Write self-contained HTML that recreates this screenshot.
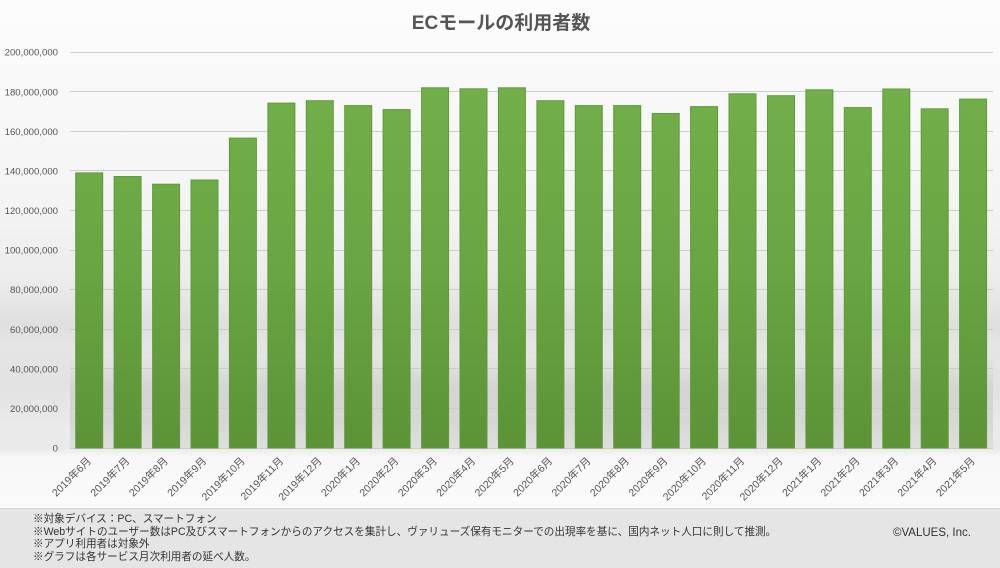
<!DOCTYPE html>
<html><head><meta charset="utf-8"><style>
html,body{margin:0;padding:0;}
body{width:1000px;height:568px;position:relative;overflow:hidden;background:#f8f8f8;font-family:"Liberation Sans","Noto Sans CJK JP",sans-serif;}
#chart{position:absolute;left:0;top:0;width:1000px;height:508px;}
#foot{position:absolute;left:0;top:508px;width:1000px;height:60px;background:#e5e5e5;border-top:1px solid #d6d6d6;box-sizing:border-box;}
#notes{position:absolute;left:33px;top:4px;font-size:10.6px;line-height:12.7px;color:#333;white-space:nowrap;}
#copy{position:absolute;left:893px;top:18px;font-size:11.5px;color:#333;white-space:nowrap;}
</style></head><body>
<svg id="chart" width="1000" height="508" viewBox="0 0 1000 508" xmlns="http://www.w3.org/2000/svg">
<defs>
<linearGradient id="bg" x1="0" y1="0" x2="0" y2="508" gradientUnits="userSpaceOnUse">
<stop offset="0" stop-color="#fcfcfc"/>
<stop offset="0.40" stop-color="#f4f4f4"/>
<stop offset="0.55" stop-color="#ececec"/>
<stop offset="0.64" stop-color="#dfdfdf"/>
<stop offset="0.68" stop-color="#e5e5e5"/>
<stop offset="0.76" stop-color="#e2e2e2"/>
<stop offset="0.85" stop-color="#ebebeb"/>
<stop offset="0.882" stop-color="#e9e9e9"/>
<stop offset="0.90" stop-color="#f8f8f8"/>
<stop offset="1" stop-color="#fafafa"/>
</linearGradient>
<linearGradient id="floor" x1="0" y1="355" x2="0" y2="448" gradientUnits="userSpaceOnUse">
<stop offset="0" stop-color="#e6e6e6"/>
<stop offset="0.35" stop-color="#d4d4d4"/>
<stop offset="0.7" stop-color="#d6d6d6"/>
<stop offset="1" stop-color="#dedede"/>
</linearGradient>
<linearGradient id="bar" x1="0" y1="90" x2="0" y2="448" gradientUnits="userSpaceOnUse">
<stop offset="0" stop-color="#72ae49"/>
<stop offset="0.5" stop-color="#69a542"/>
<stop offset="1" stop-color="#5b9336"/>
</linearGradient>
</defs>
<rect x="0" y="0" width="1000" height="508" fill="url(#bg)"/>
<rect x="70" y="355" width="923" height="93" fill="url(#floor)"/>
<text x="501" y="29" text-anchor="middle" font-size="19" font-weight="bold" fill="#555" font-family="Liberation Sans, Noto Sans CJK JP, sans-serif">ECモールの利用者数</text>
<g stroke="#cdcdcd" stroke-width="1">
<line x1="70" x2="993" y1="448.5" y2="448.5"/>
<line x1="70" x2="993" y1="408.5" y2="408.5"/>
<line x1="70" x2="993" y1="368.5" y2="368.5"/>
<line x1="70" x2="993" y1="329.5" y2="329.5"/>
<line x1="70" x2="993" y1="289.5" y2="289.5"/>
<line x1="70" x2="993" y1="250.5" y2="250.5"/>
<line x1="70" x2="993" y1="210.5" y2="210.5"/>
<line x1="70" x2="993" y1="170.5" y2="170.5"/>
<line x1="70" x2="993" y1="131.5" y2="131.5"/>
<line x1="70" x2="993" y1="91.5" y2="91.5"/>
<line x1="70" x2="993" y1="52.5" y2="52.5"/>
</g>
<g font-size="9.6" fill="#555" text-anchor="end" font-family="Liberation Sans, sans-serif">
<text x="58" y="451.5">0</text>
<text x="58" y="411.9">20,000,000</text>
<text x="58" y="372.3">40,000,000</text>
<text x="58" y="332.8">60,000,000</text>
<text x="58" y="293.2">80,000,000</text>
<text x="58" y="253.6">100,000,000</text>
<text x="58" y="214">120,000,000</text>
<text x="58" y="174.4">140,000,000</text>
<text x="58" y="134.8">160,000,000</text>
<text x="58" y="95.3">180,000,000</text>
<text x="58" y="55.7">200,000,000</text>
</g>
<g fill="url(#bar)" stroke="#5f9b3a" stroke-width="1">
<rect x="75.7" y="172.9" width="27" height="275.1"/>
<rect x="114.1" y="176.5" width="27" height="271.5"/>
<rect x="152.6" y="184.2" width="27" height="263.8"/>
<rect x="191.0" y="180.0" width="27" height="268.0"/>
<rect x="229.4" y="138.1" width="27" height="309.9"/>
<rect x="267.9" y="103.1" width="27" height="344.9"/>
<rect x="306.3" y="100.7" width="27" height="347.3"/>
<rect x="344.7" y="105.6" width="27" height="342.4"/>
<rect x="383.1" y="109.6" width="27" height="338.4"/>
<rect x="421.6" y="87.8" width="27" height="360.2"/>
<rect x="460.0" y="88.8" width="27" height="359.2"/>
<rect x="498.4" y="87.8" width="27" height="360.2"/>
<rect x="536.9" y="100.7" width="27" height="347.3"/>
<rect x="575.3" y="105.6" width="27" height="342.4"/>
<rect x="613.7" y="105.6" width="27" height="342.4"/>
<rect x="652.2" y="113.5" width="27" height="334.5"/>
<rect x="690.6" y="106.6" width="27" height="341.4"/>
<rect x="729.0" y="93.8" width="27" height="354.2"/>
<rect x="767.5" y="95.7" width="27" height="352.3"/>
<rect x="805.9" y="89.8" width="27" height="358.2"/>
<rect x="844.3" y="107.6" width="27" height="340.4"/>
<rect x="882.8" y="89.0" width="27" height="359.0"/>
<rect x="921.2" y="108.8" width="27" height="339.2"/>
<rect x="959.6" y="99.1" width="27" height="348.9"/>
</g>
<g font-size="10.5" fill="#555" text-anchor="end" font-family="Liberation Sans, Noto Sans CJK JP, sans-serif">
<text transform="translate(89.2,459) rotate(-45)" dy="0.35em">2019年6月</text>
<text transform="translate(127.6,459) rotate(-45)" dy="0.35em">2019年7月</text>
<text transform="translate(166.1,459) rotate(-45)" dy="0.35em">2019年8月</text>
<text transform="translate(204.5,459) rotate(-45)" dy="0.35em">2019年9月</text>
<text transform="translate(242.9,459) rotate(-45)" dy="0.35em">2019年10月</text>
<text transform="translate(281.4,459) rotate(-45)" dy="0.35em">2019年11月</text>
<text transform="translate(319.8,459) rotate(-45)" dy="0.35em">2019年12月</text>
<text transform="translate(358.2,459) rotate(-45)" dy="0.35em">2020年1月</text>
<text transform="translate(396.6,459) rotate(-45)" dy="0.35em">2020年2月</text>
<text transform="translate(435.1,459) rotate(-45)" dy="0.35em">2020年3月</text>
<text transform="translate(473.5,459) rotate(-45)" dy="0.35em">2020年4月</text>
<text transform="translate(511.9,459) rotate(-45)" dy="0.35em">2020年5月</text>
<text transform="translate(550.4,459) rotate(-45)" dy="0.35em">2020年6月</text>
<text transform="translate(588.8,459) rotate(-45)" dy="0.35em">2020年7月</text>
<text transform="translate(627.2,459) rotate(-45)" dy="0.35em">2020年8月</text>
<text transform="translate(665.7,459) rotate(-45)" dy="0.35em">2020年9月</text>
<text transform="translate(704.1,459) rotate(-45)" dy="0.35em">2020年10月</text>
<text transform="translate(742.5,459) rotate(-45)" dy="0.35em">2020年11月</text>
<text transform="translate(781.0,459) rotate(-45)" dy="0.35em">2020年12月</text>
<text transform="translate(819.4,459) rotate(-45)" dy="0.35em">2021年1月</text>
<text transform="translate(857.8,459) rotate(-45)" dy="0.35em">2021年2月</text>
<text transform="translate(896.3,459) rotate(-45)" dy="0.35em">2021年3月</text>
<text transform="translate(934.7,459) rotate(-45)" dy="0.35em">2021年4月</text>
<text transform="translate(973.1,459) rotate(-45)" dy="0.35em">2021年5月</text>
</g>
</svg>
<div id="foot">
<div id="notes">※対象デバイス：PC、スマートフォン<br>※Webサイトのユーザー数はPC及びスマートフォンからのアクセスを集計し、ヴァリューズ保有モニターでの出現率を基に、国内ネット人口に則して推測。<br>※アプリ利用者は対象外<br>※グラフは各サービス月次利用者の延べ人数。</div>
<div id="copy">©VALUES, Inc.</div>
</div>
</body></html>
